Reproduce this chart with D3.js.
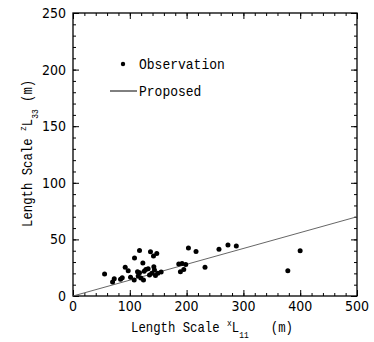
<!DOCTYPE html>
<html>
<head>
<meta charset="utf-8">
<script src="https://cdn.jsdelivr.net/npm/d3@7/dist/d3.min.js"></script>
<style>
  html, body { margin: 0; padding: 0; background: #fff; }
  svg { display: block; }
  text { font-family: "Liberation Mono", "DejaVu Sans Mono", monospace; fill: #000; }
  .tk { font-family: "Liberation Sans Narrow", "DejaVu Sans Condensed", sans-serif; }
</style>
</head>
<body>
<div id="chart"></div>
<script>
// observed length scales (m): xL11 vs zL33
const obsX = [55.6, 69.7, 72.6, 83.7, 86.7, 91.9, 97.2, 101.3, 107.7, 108.3,
  113.6, 114.8, 117.1, 117.1, 119.4, 123.0, 124.1, 125.3, 128.2, 132.3,
  134.7, 136.4, 138.8, 141.7, 142.3, 143.4, 145.2, 147.5, 149.3, 155.2,
  186.2, 189.1, 192.0, 195.0, 198.5, 203.2, 216.6, 232.4, 257.0, 272.8,
  287.5, 378.2, 399.9];
const obsY = [19.4, 12.4, 15.3, 14.7, 16.2, 25.3, 22.4, 16.5, 14.1, 33.5,
  21.5, 17.6, 40.3, 20.6, 15.9, 29.1, 14.1, 21.8, 23.5, 24.1,
  18.5, 39.1, 20.0, 35.3, 25.9, 22.9, 18.2, 37.6, 20.0, 21.2,
  28.2, 21.5, 28.8, 23.5, 27.9, 42.4, 39.4, 25.3, 41.2, 45.0,
  44.1, 22.4, 40.0];
// proposed relation, end points
const lineX = [0, 500];
const lineY = [0, 70];
const xTicks = [0, 100, 200, 300, 400, 500];
const yTicks = [0, 50, 100, 150, 200, 250];

const W = 374, H = 342;
const L = 73, R = 357, T = 13, B = 296;
const x = d3.scaleLinear().domain([0, 500]).range([L, R]);
const y = d3.scaleLinear().domain([0, 250]).range([B, T]);

const svg = d3.select("#chart").append("svg").attr("width", W).attr("height", H);

// ticks inward, all four sides
const mk = (axis, tr, vals, len) => svg.append("g").attr("transform", tr)
  .call(axis.tickValues(vals).tickSize(len).tickFormat(""))
  .call(g => g.select(".domain").remove())
  .call(g => g.selectAll("line").attr("stroke", "#000").attr("stroke-width", 1));
const xMinor = d3.range(0, 501, 20), yMinor = d3.range(0, 251, 10);
mk(d3.axisBottom(x), `translate(0,${B})`, xMinor, -3);
mk(d3.axisTop(x), `translate(0,${T})`, xMinor, -3);
mk(d3.axisLeft(y), `translate(${L},0)`, yMinor, -3);
mk(d3.axisRight(y), `translate(${R},0)`, yMinor, -3);
mk(d3.axisBottom(x), `translate(0,${B})`, xTicks, -6);
mk(d3.axisTop(x), `translate(0,${T})`, xTicks, -6);
mk(d3.axisLeft(y), `translate(${L},0)`, yTicks, -6);
mk(d3.axisRight(y), `translate(${R},0)`, yTicks, -6);

svg.append("rect").attr("x", L).attr("y", T).attr("width", R - L).attr("height", B - T)
  .attr("fill", "none").attr("stroke", "#000").attr("stroke-width", 1.3);

// tick labels
xTicks.forEach(v => svg.append("text").attr("class", "tk").attr("x", x(v)).attr("y", B + 15)
  .attr("text-anchor", "middle").attr("font-size", 14).text(v));
yTicks.forEach(v => svg.append("text").attr("class", "tk").attr("x", L - 7).attr("y", y(v) + 5)
  .attr("text-anchor", "end").attr("font-size", 14).text(v));

// proposed line
svg.append("line").attr("x1", x(lineX[0])).attr("y1", y(lineY[0]))
  .attr("x2", x(lineX[1])).attr("y2", y(lineY[1]))
  .attr("stroke", "#555").attr("stroke-width", 0.9);

// observations
svg.append("g").selectAll("circle").data(obsX).join("circle")
  .attr("cx", d => x(d)).attr("cy", (d, i) => y(obsY[i])).attr("r", 2.5).attr("fill", "#000");

// legend
svg.append("circle").attr("cx", 123).attr("cy", 64).attr("r", 2.2).attr("fill", "#000");
svg.append("text").attr("transform", "translate(139,69) scale(0.93,1)").attr("font-size", 14).text("Observation");
svg.append("line").attr("x1", 110).attr("x2", 137).attr("y1", 91).attr("y2", 91)
  .attr("stroke", "#000").attr("stroke-width", 1);
svg.append("text").attr("transform", "translate(139,96) scale(0.93,1)").attr("font-size", 14).text("Proposed");

// axis titles
const title = (tr, sup, sub, gap) => {
  const t = svg.append("text").attr("transform", tr).attr("font-size", 14).attr("xml:space", "preserve");
  t.append("tspan").text("Length Scale ");
  t.append("tspan").attr("font-size", 9).attr("dy", -6).text(sup);
  t.append("tspan").attr("dy", 6).text("L");
  t.append("tspan").attr("font-size", 9).attr("dy", 6).text(sub);
  t.append("tspan").attr("dy", -6).text(gap + "(m)");
};
title("translate(131,332) scale(0.88,1)", "x", "11", "   ");
title("translate(32,227) rotate(-90) scale(0.88,1)", "z", "33", " ");
</script>
</body>
</html>
